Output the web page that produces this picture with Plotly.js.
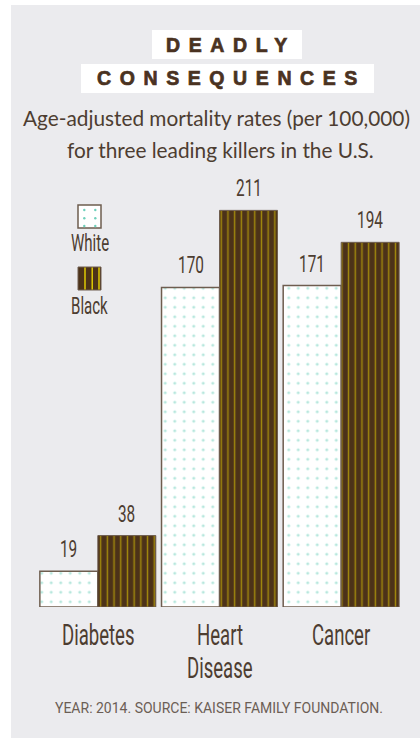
<!DOCTYPE html>
<html>
<head>
<meta charset="utf-8">
<script src="https://cdn.plot.ly/plotly-3.0.1.min.js"></script>
<style>
  html, body { margin: 0; padding: 0; background: #ffffff; }
  #chart { width: 420px; height: 738px; }
  text.annotation-text[style*="narrowface"] {
    transform-box: fill-box; transform-origin: 50% 50%; transform: scaleX(0.64);
  }
  text.annotation-text[style*="spacedface"] { letter-spacing: 8.6px; stroke: #4a3221; stroke-width: 0.7px; }
</style>
</head>
<body>
<div id="chart"></div>
<script>
// ---- data ----
const categories = ['Diabetes', 'Heart<br>Disease', 'Cancer'];
const whiteRates = [19, 170, 171];
const blackRates = [38, 211, 194];
const seriesNames = ['White', 'Black'];
const titleLines = ['DEADLY', 'CONSEQUENCES'];
const subtitleLines = ['Age-adjusted mortality rates (per 100,000)', 'for three leading killers in the U.S.'];
const sourceText = 'YEAR: 2014. SOURCE: KAISER FAMILY FOUNDATION.';

// ---- styles ----
const W = 420, H = 738;
const M = { l: 37, r: 18, t: 160, b: 131 };
const plotW = W - M.l - M.r, plotH = H - M.t - M.b;
const px = x => (x - M.l) / plotW;
const py = y => (H - M.b - y) / plotH;

const brown = '#4c3219';
const yellow = '#f5e000';
const teal = '#6fd0bb';
const edge = '#6e5d4f';
const textBrown = '#4d3d31';
const narrow = 'Roboto, narrowface';

const traces = [
  {
    type: 'bar', name: seriesNames[0], x: categories, y: whiteRates,
    marker: {
      color: '#ffffff',
      line: { color: edge, width: 1.5 },
      pattern: { shape: '.', fgcolor: teal, bgcolor: '#ffffff', fillmode: 'overlay', size: 9.5, solidity: 0.08 }
    },
    hoverinfo: 'skip', showlegend: false
  },
  {
    type: 'bar', name: seriesNames[1], x: categories, y: blackRates,
    marker: {
      color: brown,
      line: { color: edge, width: 1 },
      pattern: { shape: '|', fgcolor: yellow, bgcolor: brown, fillmode: 'overlay', size: 6.7, solidity: 0.22 }
    },
    hoverinfo: 'skip', showlegend: false
  }
];

const annotations = [];
// title lines
const titleCy = [44.5, 78.5];
titleLines.forEach((t, i) => annotations.push({
  text: t, xref: 'paper', yref: 'paper', x: px(227), y: py(titleCy[i]),
  xanchor: 'center', yanchor: 'middle', xshift: 4.3, showarrow: false,
  font: { family: '"Liberation Sans", Arial, spacedface', size: 19.5, color: '#4a3221', weight: 700 }
}));
// subtitle
const subCy = [117.5, 149.5], subCx = [216.5, 220];
subtitleLines.forEach((t, i) => annotations.push({
  text: t, xref: 'paper', yref: 'paper', x: px(subCx[i]), y: py(subCy[i]),
  xanchor: 'center', yanchor: 'middle', showarrow: false,
  font: { family: 'Lato, "Open Sans", sans-serif', size: 20.8, color: textBrown }
}));
// source
annotations.push({
  text: sourceText, xref: 'paper', yref: 'paper', x: px(219), y: py(707.5),
  xanchor: 'center', yanchor: 'middle', showarrow: false,
  font: { family: 'Roboto, sans-serif', size: 14, color: '#6b5e55' }
});
// value labels
[whiteRates, blackRates].forEach((vals, s) => vals.forEach((v, i) => annotations.push({
  text: String(v), xref: 'x', yref: 'y', x: categories[i], y: v,
  xanchor: 'center', yanchor: 'middle', xshift: s === 0 ? -29 : 29, yshift: 22.5,
  showarrow: false, font: { family: narrow, size: 24, color: textBrown }
})));
// category labels (one annotation per line)
categories.forEach((c, i) => c.split('<br>').forEach((line, j) => annotations.push({
  text: line, xref: 'x', yref: 'y', x: categories[i], y: 0,
  xanchor: 'center', yanchor: 'middle', yshift: -28.5 - 33 * j,
  showarrow: false, font: { family: narrow, size: 29, color: textBrown }
})));
// legend labels
const legCy = [243.3, 306];
seriesNames.forEach((n, i) => annotations.push({
  text: n, xref: 'paper', yref: 'paper', x: px(89.6), y: py(legCy[i]),
  xanchor: 'center', yanchor: 'middle', showarrow: false,
  font: { family: narrow, size: 23.5, color: textBrown }
}));

const rect = (x0, y0, x1, y1, fill, line, lw, layer) => ({
  type: 'rect', xref: 'paper', yref: 'paper', x0: px(x0), x1: px(x1), y0: py(y1), y1: py(y0),
  fillcolor: fill, line: { color: line || fill, width: lw || 0 }, layer: layer || 'above'
});
const shapes = [
  rect(11, 5, 420, 738, '#ebebee', null, 0, 'below'),
  rect(152, 30, 302, 59, '#ffffff', null, 0, 'below'),
  rect(81, 64, 374, 93, '#ffffff', null, 0, 'below'),
  // legend swatches
  rect(78, 205, 101, 228, '#ffffff', edge, 1.5),
  rect(78, 267, 101, 290, brown, edge, 1)
];
[[84.3, 210], [95.3, 210], [84.3, 218.3], [95.3, 218.3], [84.3, 226], [95.3, 226]].forEach(([cx, cy]) =>
  shapes.push({ type: 'circle', xref: 'paper', yref: 'paper', x0: px(cx - 1.2), x1: px(cx + 1.2), y0: py(cy + 1.2), y1: py(cy - 1.2),
    fillcolor: teal, line: { width: 0 } }));
[85, 92.2, 99].forEach(x => shapes.push({ type: 'line', xref: 'paper', yref: 'paper', x0: px(x), x1: px(x), y0: py(289.5), y1: py(267.5),
  line: { color: yellow, width: 1.3 } }));

const layout = {
  width: W, height: H, margin: M,
  paper_bgcolor: '#ffffff', plot_bgcolor: 'rgba(0,0,0,0)',
  barmode: 'group', bargap: 0.047, bargroupgap: 0,
  xaxis: { type: 'category', range: [-0.5, 2.5], showticklabels: false, showgrid: false, zeroline: false, showline: false, ticks: '' },
  yaxis: { range: [0, 237.8], visible: false, showgrid: false, zeroline: false },
  showlegend: false,
  annotations: annotations,
  shapes: shapes
};

Plotly.newPlot('chart', traces, layout, { staticPlot: true, displayModeBar: false });
</script>
</body>
</html>
